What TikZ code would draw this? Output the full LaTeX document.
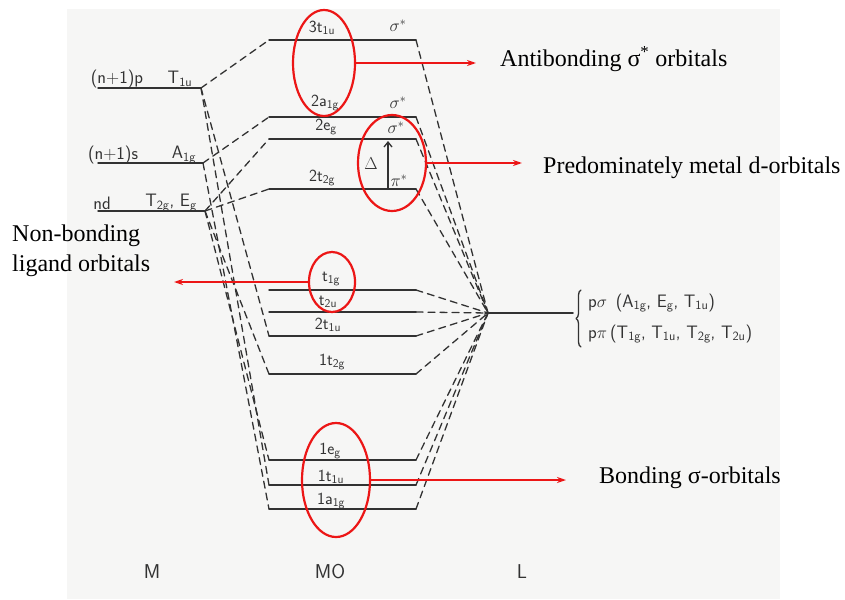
\documentclass[tikz,border=0pt]{standalone}
\usepackage{fontspec}
\setmainfont{Liberation Serif}
\usetikzlibrary{shapes.geometric, arrows.meta, decorations.pathreplacing}

\definecolor{paper}{RGB}{246,246,245}
\definecolor{pencil}{RGB}{50,50,50}
\definecolor{marker}{RGB}{236,22,22}

\begin{document}
\begin{tikzpicture}[x=1pt,y=-1pt,line cap=round,line join=round,
		level/.style={draw=pencil,line width=1.5pt},
		link/.style={draw=pencil,line width=1.3pt,dash pattern=on 7pt off 5pt},
		hand/.style={text=pencil,font=\sffamily\fontsize{17}{19}\selectfont,inner sep=0pt},
		ring/.style={ellipse,draw=marker,line width=2.2pt,inner sep=0pt},
		pointer/.style={draw=marker,line width=2pt,-{Stealth[length=9pt,width=6pt]}},
		note/.style={font=\fontsize{24}{30}\selectfont,inner sep=0pt,align=left}]
		\fill[paper] (67,9) rectangle (780,599);
		\useasboundingbox (0,0) rectangle (845,599);
		% metal levels
		\coordinate (mp-l) at (98,88);  \coordinate (mp-r) at (201,88);
		\coordinate (ms-l) at (98,163); \coordinate (ms-r) at (203,163);
		\coordinate (md-l) at (98,211); \coordinate (md-r) at (205,211);
		\draw[level] (mp-l) -- (mp-r);
		\draw[level] (ms-l) -- (ms-r);
		\draw[level] (md-l) -- (md-r);
		\node[hand,font=\sffamily\fontsize{18}{20}\selectfont] (mplab) at (117,79) {(n+1)p};
		\node[hand,font=\sffamily\fontsize{18}{20}\selectfont] (mpsym) at (180,79) {T\textsubscript{1u}};
		\node[hand,font=\sffamily\fontsize{18}{20}\selectfont] (mslab) at (113,155) {(n+1)s};
		\node[hand,font=\sffamily\fontsize{18}{20}\selectfont] (mssym) at (184,155) {A\textsubscript{1g}};
		\node[hand,font=\sffamily\fontsize{18}{20}\selectfont] (mdlab) at (102,203) {nd};
		\node[hand,font=\sffamily\fontsize{18}{20}\selectfont] (mdsym) at (171,203) {T\textsubscript{2g}, E\textsubscript{g}};
		% molecular orbital levels
		\foreach \name/\y in {3t1u/40, 2a1g/117, 2eg/139, 2t2g/189, t1g/290, t2u/312, 2t1u/336, 1t2g/374, 1eg/460, 1t1u/485, 1a1g/509}{
			\coordinate (mo\name-l) at (269,\y);
			\coordinate (mo\name-r) at (416,\y);
			\draw[level] (mo\name-l) -- (mo\name-r);
		}
		\node[hand] (lab3t1u) at (322,28) {3t\textsubscript{1u}};
		\node[hand] (lab2a1g) at (325,103) {2a\textsubscript{1g}};
		\node[hand] (lab2eg) at (326,127) {2e\textsubscript{g}};
		\node[hand] (lab2t2g) at (322,178) {2t\textsubscript{2g}};
		\node[hand] (labt1g) at (331,279) {t\textsubscript{1g}};
		\node[hand] (labt2u) at (328,302) {t\textsubscript{2u}};
		\node[hand] (lab2t1u) at (328,325) {2t\textsubscript{1u}};
		\node[hand] (lab1t2g) at (332,362) {1t\textsubscript{2g}};
		\node[hand] (lab1eg) at (330,451) {1e\textsubscript{g}};
		\node[hand] (lab1t1u) at (331,477) {1t\textsubscript{1u}};
		\node[hand] (lab1a1g) at (331,501) {1a\textsubscript{1g}};
		\node[hand] (sig1) at (398,26) {$\sigma^{*}$};
		\node[hand] (sig2) at (398,103) {$\sigma^{*}$};
		\node[hand] (sig3) at (396,128) {$\sigma^{*}$};
		\node[hand] (pist) at (399,181) {$\pi^{*}$};
		\coordinate (gapbot) at (388,189);
		\coordinate (gaptop) at (388,141);
		\draw[draw=pencil,line width=1.3pt,-{Straight Barb[length=5pt,width=8pt]}] (gapbot) -- (gaptop);
		\node[hand,font=\fontsize{19}{21}\selectfont] (gap) at (371,164) {$\Delta$};
		% ligand level
		\coordinate (lig-l) at (488,313);
		\coordinate (lig-r) at (573,313);
		\draw[level] (lig-l) -- (lig-r);
		\draw[draw=pencil,line width=1.3pt,decorate,decoration={brace,amplitude=5pt}] (581,347) -- (581,290);
		\node[hand,anchor=west,font=\sffamily\fontsize{18}{20}\selectfont] (ligsig) at (588,303) {p$\sigma$\, (A\textsubscript{1g}, E\textsubscript{g}, T\textsubscript{1u})};
		\node[hand,anchor=west,font=\sffamily\fontsize{18}{20}\selectfont] (ligpi) at (588,334) {p$\pi$\,(T\textsubscript{1g}, T\textsubscript{1u}, T\textsubscript{2g}, T\textsubscript{2u})};
		% correlation lines
		\draw[link] (mp-r) -- (mo3t1u-l);
		\draw[link] (mp-r) -- (mo2t1u-l);
		\draw[link] (mp-r) -- (mo1t1u-l);
		\draw[link] (ms-r) -- (mo2a1g-l);
		\draw[link] (ms-r) -- (mo1a1g-l);
		\draw[link] (md-r) -- (mo2eg-l);
		\draw[link] (md-r) -- (mo2t2g-l);
		\draw[link] (md-r) -- (mo1t2g-l);
		\draw[link] (md-r) -- (mo1eg-l);
		\foreach \name in {3t1u, 2a1g, 2eg, 2t2g, t1g, t2u, 2t1u, 1t2g, 1eg, 1t1u, 1a1g}
			\draw[link] (mo\name-r) -- (lig-l);
		\node[hand,font=\sffamily\fontsize{20}{22}\selectfont] (colM) at (152,572) {M};
		\node[hand,font=\sffamily\fontsize{20}{22}\selectfont] (colMO) at (330,572) {MO};
		\node[hand,font=\sffamily\fontsize{20}{22}\selectfont] (colL) at (522,572) {L};
		% annotations
		\node[ring,minimum width=62pt,minimum height=106pt] (antiring) at (324,63) {};
		\node[ring,minimum width=68pt,minimum height=96pt] (dring) at (392,163) {};
		\node[ring,minimum width=46pt,minimum height=60pt] (nbring) at (332,282) {};
		\node[ring,minimum width=68pt,minimum height=114pt] (bring) at (336,480) {};
		\node[note,anchor=base west] (antinote) at (500,67) {Antibonding σ\textsuperscript{*} orbitals};
		\node[note,anchor=base west] (dnote) at (543,173) {Predominately metal d-orbitals};
		\node[note,anchor=base west] (nbnote) at (12,271) {Non-bonding\\ligand orbitals};
		\node[note,anchor=base west] (bnote) at (599,483) {Bonding σ-orbitals};
		\coordinate (antitip) at (476,62);
		\coordinate (dtip) at (522,160);
		\coordinate (nbtip) at (174,282);
		\coordinate (btip) at (566,478);
		\draw[pointer] (antiring.east) -- (antiring.east -| antitip);
		\draw[pointer] (dring.east) -- (dring.east -| dtip);
		\draw[pointer] (nbring.west) -- (nbring.west -| nbtip);
		\draw[pointer] (bring.east) -- (bring.east -| btip);
	\end{tikzpicture}
\end{document}
